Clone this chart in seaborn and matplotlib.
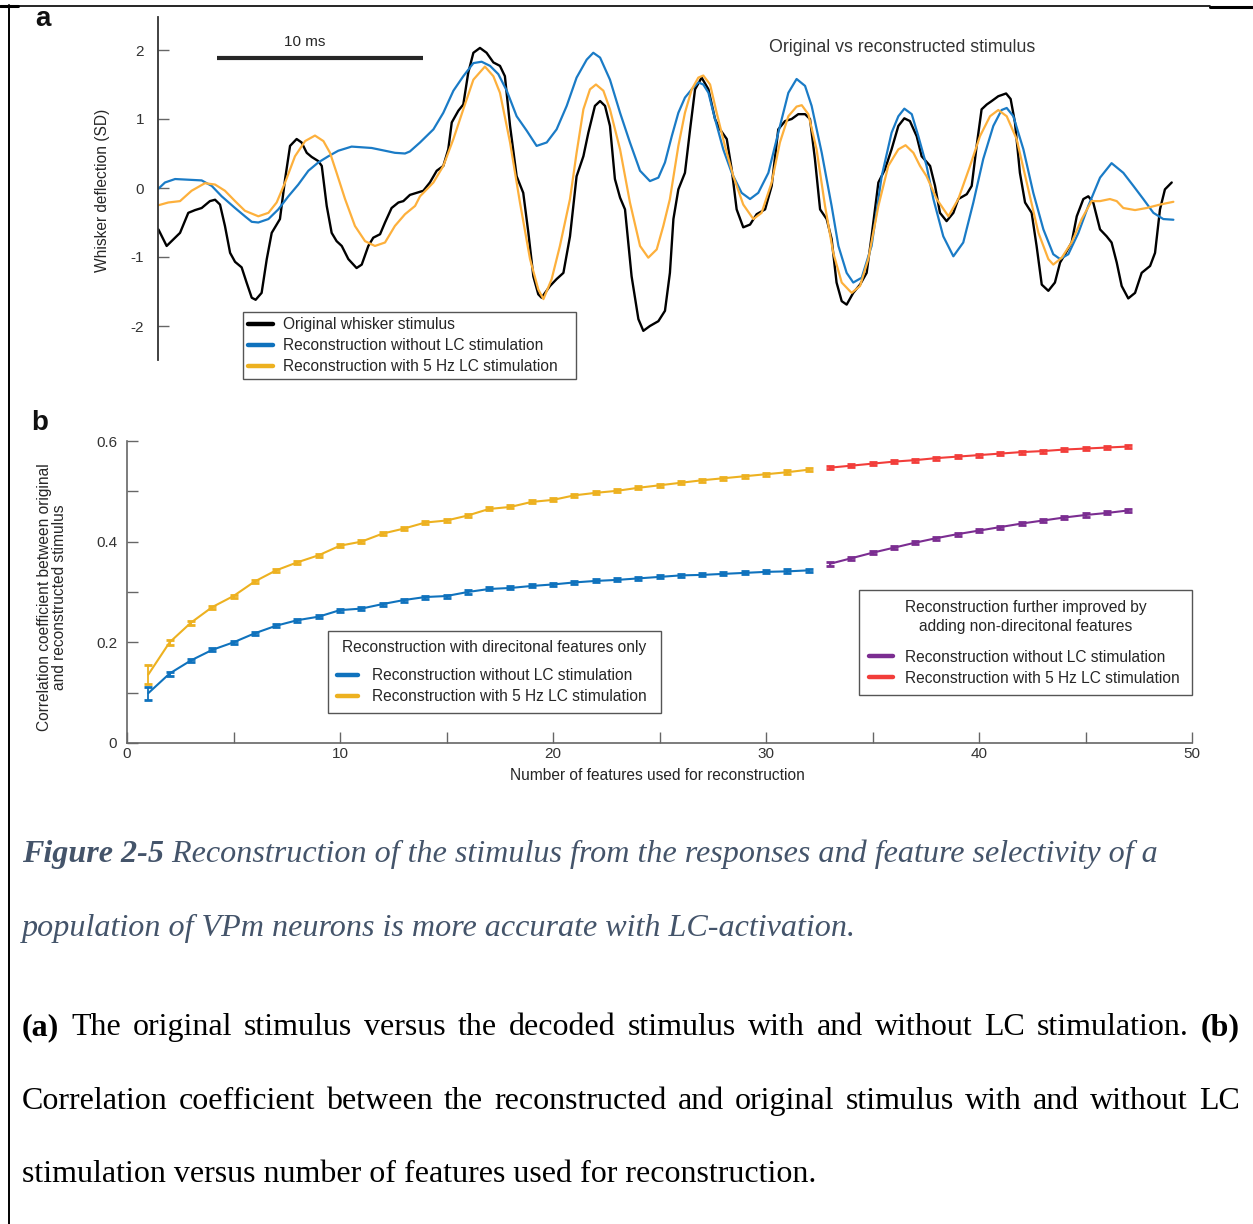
import numpy as np
import pandas as pd
import matplotlib
matplotlib.use("Agg")
import matplotlib.pyplot as plt
import seaborn as sns
from matplotlib.lines import Line2D

# ---------------- data: panel a (time in ms, deflection in SD) ----------------
original_pts = [(0.02,-0.60),(0.42,-0.84),(1.07,-0.65),(1.47,-0.36),(1.80,-0.32),(2.12,-0.29),(2.52,-0.19),(2.77,-0.17),(3.01,-0.24),(3.25,-0.55),(3.50,-0.94),(3.74,-1.07),(4.06,-1.15),(4.30,-1.37),(4.55,-1.59),(4.74,-1.62),(5.03,-1.52),(5.28,-1.03),(5.52,-0.65),(5.92,-0.45),(6.17,0.13),(6.41,0.61),(6.73,0.71),(6.97,0.66),(7.22,0.51),(7.46,0.45),(7.78,0.39),(7.95,0.32),(8.19,-0.26),(8.43,-0.65),(8.67,-0.77),(8.92,-0.84),(9.24,-1.03),(9.64,-1.16),(9.89,-1.11),(10.21,-0.84),(10.45,-0.72),(10.78,-0.67),(11.02,-0.50),(11.34,-0.29),(11.67,-0.21),(11.91,-0.19),(12.23,-0.10),(12.88,-0.04),(13.20,0.08),(13.53,0.25),(13.85,0.32),(14.09,0.56),(14.26,0.95),(14.58,1.12),(14.82,1.21),(15.06,1.67),(15.31,1.96),(15.63,2.03),(15.95,1.96),(16.28,1.82),(16.60,1.77),(16.84,1.62),(17.09,0.90),(17.41,0.17),(17.73,-0.07),(17.98,-0.65),(18.22,-1.28),(18.46,-1.54),(18.62,-1.59),(19.03,-1.42),(19.35,-1.32),(19.68,-1.23),(20.00,-0.70),(20.32,0.17),(20.65,0.46),(20.89,0.80),(21.21,1.19),(21.46,1.26),(21.70,1.19),(21.94,0.90),(22.18,0.13),(22.43,-0.14),(22.67,-0.31),(22.99,-1.28),(23.32,-1.90),(23.56,-2.07),(23.88,-2.00),(24.29,-1.93),(24.61,-1.78),(24.85,-1.23),(25.02,-0.45),(25.26,-0.02),(25.58,0.22),(25.83,0.85),(26.07,1.43),(26.39,1.60),(26.72,1.43),(27.04,1.00),(27.28,0.85),(27.61,0.71),(27.85,0.27),(28.09,-0.31),(28.41,-0.57),(28.74,-0.53),(29.06,-0.38),(29.47,-0.31),(29.79,0.03),(30.11,0.85),(30.44,0.97),(30.76,1.00),(31.08,1.07),(31.41,1.07),(31.65,1.00),(31.89,0.42),(32.14,-0.31),(32.46,-0.45),(32.70,-0.74),(32.94,-1.37),(33.19,-1.64),(33.43,-1.69),(33.75,-1.52),(34.08,-1.40),(34.40,-1.23),(34.64,-0.70),(34.97,0.08),(35.29,0.27),(35.61,0.56),(35.94,0.90),(36.23,1.01),(36.50,0.97),(36.83,0.75),(37.07,0.46),(37.48,0.32),(37.72,0.03),(37.96,-0.36),(38.28,-0.48),(38.61,-0.36),(38.85,-0.16),(39.26,-0.09),(39.50,0.03),(39.74,0.61),(39.98,1.14),(40.23,1.21),(40.47,1.26),(40.79,1.33),(41.17,1.37),(41.39,1.29),(41.60,0.95),(41.84,0.22),(42.09,-0.21),(42.41,-0.36),(42.65,-0.84),(42.90,-1.40),(43.22,-1.49),(43.54,-1.37),(43.79,-1.08),(44.03,-0.96),(44.35,-0.79),(44.60,-0.41),(44.92,-0.16),(45.16,-0.12),(45.40,-0.21),(45.73,-0.60),(46.05,-0.70),(46.29,-0.79),(46.54,-1.08),(46.78,-1.42),(47.10,-1.60),(47.43,-1.52),(47.75,-1.23),(48.16,-1.13),(48.40,-0.94),(48.64,-0.31),(48.88,-0.02),(49.21,0.08)]

recon_noLC_pts = [(0.02,-0.01),(0.34,0.08),(0.83,0.13),(1.47,0.12),(2.12,0.11),(2.61,0.03),(3.09,-0.12),(3.74,-0.29),(4.22,-0.41),(4.55,-0.49),(4.87,-0.50),(5.36,-0.45),(5.84,-0.31),(6.33,-0.12),(6.81,0.05),(7.30,0.25),(7.78,0.37),(8.27,0.46),(8.75,0.54),(9.40,0.60),(9.89,0.59),(10.37,0.58),(11.02,0.54),(11.50,0.51),(11.99,0.50),(12.23,0.53),(12.72,0.66),(13.37,0.85),(13.85,1.09),(14.34,1.41),(14.82,1.62),(15.31,1.81),(15.71,1.83),(16.12,1.77),(16.52,1.65),(16.93,1.41),(17.41,1.04),(17.90,0.83),(18.38,0.61),(18.87,0.66),(19.35,0.85),(19.84,1.19),(20.32,1.60),(20.81,1.86),(21.13,1.96),(21.46,1.89),(21.94,1.57),(22.43,1.09),(22.91,0.66),(23.40,0.25),(23.88,0.10),(24.29,0.15),(24.61,0.37),(24.94,0.75),(25.26,1.09),(25.58,1.31),(25.91,1.43),(26.23,1.53),(26.47,1.50),(26.72,1.38),(27.04,1.00),(27.44,0.56),(27.85,0.22),(28.33,-0.07),(28.74,-0.16),(29.14,-0.07),(29.63,0.22),(30.11,0.80),(30.60,1.38),(31.00,1.58),(31.41,1.48),(31.73,1.19),(32.22,0.51),(32.70,-0.26),(33.03,-0.84),(33.43,-1.23),(33.75,-1.37),(34.16,-1.30),(34.64,-0.84),(35.13,0.17),(35.61,0.80),(35.94,1.04),(36.23,1.15),(36.59,1.07),(36.91,0.75),(37.31,0.32),(37.64,-0.16),(38.12,-0.70),(38.61,-0.99),(39.09,-0.79),(39.58,-0.21),(40.06,0.42),(40.55,0.90),(40.95,1.13),(41.20,1.16),(41.52,1.04),(42.01,0.56),(42.49,-0.07),(42.98,-0.60),(43.46,-0.96),(43.79,-1.03),(44.19,-0.96),(44.68,-0.65),(45.16,-0.26),(45.73,0.15),(46.29,0.36),(46.86,0.22),(47.35,0.03),(47.83,-0.16),(48.32,-0.36),(48.80,-0.45),(49.29,-0.46)]

recon_LC_pts = [(0.02,-0.25),(0.50,-0.21),(1.07,-0.19),(1.63,-0.04),(2.28,0.07),(2.77,0.05),(3.25,-0.04),(3.74,-0.19),(4.22,-0.33),(4.87,-0.41),(5.36,-0.36),(5.76,-0.21),(6.17,0.08),(6.65,0.46),(7.14,0.68),(7.62,0.76),(8.03,0.68),(8.35,0.51),(8.67,0.22),(9.08,-0.16),(9.56,-0.55),(10.05,-0.77),(10.53,-0.84),(11.02,-0.79),(11.50,-0.55),(11.99,-0.38),(12.48,-0.26),(12.72,-0.12),(13.37,0.08),(13.85,0.32),(14.34,0.71),(14.82,1.14),(15.31,1.57),(15.87,1.76),(16.28,1.62),(16.60,1.38),(17.09,0.66),(17.57,-0.21),(18.06,-1.03),(18.46,-1.47),(18.71,-1.61),(19.11,-1.32),(19.51,-0.84),(20.00,-0.16),(20.32,0.51),(20.65,1.14),(20.97,1.43),(21.26,1.50),(21.62,1.41),(21.94,1.14),(22.43,0.56),(22.91,-0.21),(23.40,-0.84),(23.80,-1.01),(24.21,-0.89),(24.53,-0.55),(24.85,-0.16),(25.26,0.61),(25.58,1.09),(25.91,1.43),(26.23,1.60),(26.47,1.63),(26.80,1.50),(27.12,1.09),(27.52,0.61),(27.93,0.17),(28.41,-0.24),(28.90,-0.45),(29.30,-0.36),(29.79,0.08),(30.19,0.66),(30.60,1.04),(31.00,1.18),(31.25,1.20),(31.57,1.07),(31.97,0.56),(32.38,-0.26),(32.78,-0.94),(33.19,-1.37),(33.67,-1.52),(34.08,-1.42),(34.48,-1.03),(34.97,-0.26),(35.45,0.32),(35.94,0.56),(36.29,0.62),(36.67,0.51),(36.99,0.32),(37.31,0.17),(37.80,-0.16),(38.37,-0.41),(38.85,-0.16),(39.42,0.32),(39.90,0.75),(40.39,1.04),(40.79,1.13),(41.20,1.04),(41.68,0.71),(42.17,0.08),(42.74,-0.65),(43.22,-1.03),(43.46,-1.11),(43.87,-1.01),(44.35,-0.79),(44.84,-0.45),(45.32,-0.19),(45.73,-0.19),(46.21,-0.16),(46.54,-0.19),(46.86,-0.29),(47.43,-0.32),(47.99,-0.29),(48.64,-0.24),(49.29,-0.20)]

a_labels = ["Original whisker stimulus", "Reconstruction without LC stimulation",
            "Reconstruction with 5 Hz LC stimulation"]
a_yticks = [-2, -1, 0, 1, 2]
a_yticklabels = ["-2", "-1", "0", "1", "2"]

# ---------------- data: panel b ----------------
feat_dir = list(range(1, 33))
corr_dir_noLC = [0.099,0.138,0.164,0.185,0.200,0.218,0.233,0.244,0.251,0.264,0.267,0.276,0.284,0.290,0.292,0.300,
                 0.306,0.308,0.312,0.315,0.319,0.322,0.324,0.327,0.330,0.333,0.334,0.336,0.338,0.340,0.341,0.343]
err_dir_noLC = [0.013,0.004,0.003,0.003,0.003,0.003,0.003,0.003,0.003,0.003,0.003,0.003,0.003,0.003,0.003,0.003,
                0.003,0.003,0.003,0.003,0.003,0.003,0.003,0.003,0.003,0.003,0.003,0.003,0.003,0.003,0.004,0.003]
corr_dir_LC = [0.136,0.200,0.239,0.270,0.292,0.321,0.343,0.359,0.373,0.392,0.400,0.416,0.426,0.438,0.442,0.452,
               0.465,0.469,0.479,0.483,0.492,0.497,0.501,0.507,0.512,0.517,0.522,0.526,0.530,0.534,0.538,0.543]
err_dir_LC = [0.018,0.005,0.004,0.003,0.003,0.003,0.003,0.003,0.003,0.003,0.003,0.003,0.003,0.003,0.003,0.003,
              0.003,0.003,0.003,0.003,0.003,0.003,0.003,0.003,0.003,0.003,0.003,0.003,0.003,0.003,0.004,0.003]
feat_all = list(range(33, 48))
corr_all_noLC = [0.356,0.367,0.378,0.388,0.398,0.407,0.415,0.422,0.429,0.436,0.442,0.448,0.453,0.457,0.462]
err_all_noLC = [0.004,0.003,0.003,0.003,0.003,0.003,0.003,0.003,0.003,0.003,0.003,0.003,0.003,0.003,0.003]
corr_all_LC = [0.547,0.551,0.555,0.559,0.562,0.566,0.569,0.572,0.575,0.578,0.580,0.583,0.585,0.587,0.589]
err_all_LC = [0.003,0.003,0.003,0.003,0.003,0.003,0.003,0.003,0.003,0.003,0.003,0.003,0.003,0.003,0.003]

b_xticks = [0, 5, 10, 15, 20, 25, 30, 35, 40, 45, 50]
b_xticklabels = ["0", "", "10", "", "20", "", "30", "", "40", "", "50"]
b_yticks = [0, 0.1, 0.2, 0.3, 0.4, 0.5, 0.6]
b_yticklabels = ["0", "", "0.2", "", "0.4", "", "0.6"]
b_labels = ["Reconstruction without LC stimulation", "Reconstruction with 5 Hz LC stimulation"]

caption_head = "Figure 2-5"
caption_l1 = " Reconstruction of the stimulus from the responses and feature selectivity of a"
caption_l2 = "population of VPm neurons is more accurate with LC-activation."
body_l1 = [("(a)", "bold"), ("The", "normal"), ("original", "normal"), ("stimulus", "normal"), ("versus", "normal"),
           ("the", "normal"), ("decoded", "normal"), ("stimulus", "normal"), ("with", "normal"), ("and", "normal"),
           ("without", "normal"), ("LC", "normal"), ("stimulation.", "normal"), ("(b)", "bold")]
body_l2 = "Correlation coefficient between the reconstructed and original stimulus with and without LC"
body_l3 = "stimulation versus number of features used for reconstruction."

# ---------------- style ----------------
sns.set_theme(style="white")
plt.rcParams['font.family'] = ['Liberation Sans', 'DejaVu Sans']
plt.rcParams['axes.linewidth'] = 1.0

BLACK = "#000000"
BLUE_A = "#1a7bc6"
YELLOW_A = "#fdb03c"
BLUE = "#0f72bd"
YELLOW = "#edb120"
PURPLE = "#7b2d91"
RED = "#f23d3a"
TXT = "#262626"
LFS = 11.2

W, H = 1253, 1224
fig = plt.figure(figsize=(W / 100, H / 100), dpi=100)


def fx(x):
    return x / W


def fy(y):
    return 1 - y / H


def place_legend(ax, handles, labels, x0, x1, ytop, title=None, hlen=1.5, hpad=0.7, bpad=0.5, sep=11.5):
    lg = ax.legend(handles, labels, title=title, loc="upper left",
                   bbox_to_anchor=(fx(x0), fy(ytop) - 0.05, fx(x1) - fx(x0), 0.05),
                   bbox_transform=fig.transFigure, mode="expand", frameon=True, fancybox=False,
                   edgecolor="#555555", framealpha=1, fontsize=LFS, title_fontsize=LFS,
                   handlelength=hlen, handletextpad=hpad, borderpad=bpad,
                   labelspacing=0.37, borderaxespad=0)
    lg.get_frame().set_linewidth(1.0)
    for t in lg.get_texts():
        t.set_color(TXT)
    if title is not None:
        lg.get_title().set_color(TXT)
        lg.get_title().set_multialignment("center")
        lg.get_title().set_linespacing(1.35)
        lg._legend_box.sep = sep
    return lg


# ---------------- panel a ----------------
axa = fig.add_axes([fx(158), fy(360), fx(1180) - fx(158), fy(17) - fy(360)])
for pts, col, lw in [(original_pts, BLACK, 1.7), (recon_noLC_pts, BLUE_A, 1.6), (recon_LC_pts, YELLOW_A, 1.6)]:
    df = pd.DataFrame(pts, columns=["t", "v"])
    sns.lineplot(data=df, x="t", y="v", color=col, lw=lw, ax=axa, sort=False, estimator=None,
                 solid_joinstyle="round")
axa.set_xlim(0, 1022 / 20.6)
axa.set_ylim(-172 / 69, 171 / 69)
axa.set_xlabel("")
axa.set_ylabel("")
axa.set_xticks([])
axa.set_yticks(a_yticks)
axa.set_yticklabels(a_yticklabels)
for s in ["top", "right", "bottom"]:
    axa.spines[s].set_visible(False)
axa.spines["left"].set_color("#333333")
axa.spines["left"].set_linewidth(1.3)
axa.tick_params(axis="y", direction="in", length=8, width=1, color="#666666",
                labelsize=11, labelcolor="#333333", pad=10, left=True)
# 10 ms scale bar
axa.plot([2.86, 12.86], [1.884, 1.884], color="#262626", lw=3.0, solid_capstyle="butt")
axa.text(7.1, 2.12, "10 ms", ha="center", va="center", fontsize=11, color=TXT)
axa.text(36.1, 2.04, "Original vs reconstructed stimulus", ha="center", va="center",
         fontsize=12.8, color="#333333")

handles_a = [Line2D([], [], color=c, lw=3.2) for c in (BLACK, BLUE, YELLOW)]
leg_a = place_legend(axa, handles_a, a_labels, 243, 576, 312, hlen=1.6, hpad=0.65, bpad=0.35)

fig.text(fx(103), fy(190), "Whisker deflection (SD)", rotation=90, ha="center", va="center",
         fontsize=LFS, color=TXT)

# ---------------- panel b ----------------
axb = fig.add_axes([fx(127), fy(743), fx(1192) - fx(127), fy(441) - fy(743)])
series_b = [(feat_dir, corr_dir_noLC, err_dir_noLC, BLUE), (feat_dir, corr_dir_LC, err_dir_LC, YELLOW),
            (feat_all, corr_all_noLC, err_all_noLC, PURPLE), (feat_all, corr_all_LC, err_all_LC, RED)]
for xs, ys, es, col in series_b:
    sns.lineplot(x=xs, y=ys, color=col, lw=1.5, ax=axb, estimator=None)
    axb.errorbar(xs, ys, yerr=es, fmt="none", ecolor=col, elinewidth=1.3, capsize=3.2, capthick=2.0)
axb.set_xlim(0, 50)
axb.set_ylim(0, 0.6)
axb.set_xticks(b_xticks)
axb.set_xticklabels(b_xticklabels)
axb.set_yticks(b_yticks)
axb.set_yticklabels(b_yticklabels)
axb.set_xlabel("")
axb.set_ylabel("")
for s in ["top", "right"]:
    axb.spines[s].set_visible(False)
for s in ["left", "bottom"]:
    axb.spines[s].set_color("#666666")
    axb.spines[s].set_linewidth(1.2)
axb.tick_params(axis="both", direction="in", length=8, width=1, color="#666666",
                labelsize=11, labelcolor="#333333", left=True, bottom=True)
axb.tick_params(axis="y", pad=7)
axb.tick_params(axis="x", pad=3)

h1 = [Line2D([], [], color=c, lw=3.2) for c in (BLUE, YELLOW)]
leg1 = place_legend(axb, h1, b_labels, 328, 661, 631,
                    title="Reconstruction with direcitonal features only", hlen=1.35, hpad=0.9,
                    bpad=0.55, sep=10)
axb.add_artist(leg1)
h2 = [Line2D([], [], color=c, lw=3.2) for c in (PURPLE, RED)]
leg2 = place_legend(axb, h2, b_labels, 859, 1192, 590,
                    title="Reconstruction further improved by\nadding non-direcitonal features",
                    hlen=1.55, hpad=0.8, bpad=0.62, sep=11.5)

fig.text(fx(52), fy(597), "Correlation coefficient between original\nand reconstructed stimulus",
         rotation=90, ha="center", va="center", multialignment="center", fontsize=LFS,
         color=TXT, linespacing=1.05)
fig.text(fx(657), fy(776), "Number of features used for reconstruction", ha="center", va="center",
         fontsize=LFS, color=TXT)

# panel letters
fig.text(fx(43), fy(19), "a", ha="center", va="center", fontsize=20, weight="bold", color="#111111")
fig.text(fx(40), fy(423), "b", ha="center", va="center", fontsize=20, weight="bold", color="#111111")

# ---------------- caption ----------------
SERIF = ["Liberation Serif", "DejaVu Serif"]
CAP = "#44546a"
FS_CAP = 23.1
FS = 23.0
renderer = fig.canvas.get_renderer()
th = fig.text(fx(22), fy(862), caption_head, fontsize=FS_CAP, family=SERIF, style="italic",
              weight="bold", color=CAP, va="baseline", ha="left")
wh = th.get_window_extent(renderer).width
fig.text(fx(22 + wh), fy(862), caption_l1, fontsize=FS_CAP, family=SERIF, style="italic",
         color=CAP, va="baseline", ha="left")
fig.text(fx(22), fy(936), caption_l2, fontsize=FS_CAP, family=SERIF, style="italic",
         color=CAP, va="baseline", ha="left")


def justify(words, ybase, x0, x1):
    texts = [fig.text(0, fy(ybase), w, fontsize=FS, family=SERIF, weight=wt, color="black",
                      va="baseline", ha="left") for w, wt in words]
    widths = [t.get_window_extent(renderer).width for t in texts]
    gap = (x1 - x0 - sum(widths)) / (len(texts) - 1)
    x = x0
    for t, wd in zip(texts, widths):
        t.set_x(fx(x))
        x += wd + gap


justify(body_l1, 1035, 22, 1240)
justify([(w, "normal") for w in body_l2.split(" ")], 1109, 22, 1240)
fig.text(fx(22), fy(1182), body_l3, fontsize=FS, family=SERIF, color="black", va="baseline", ha="left")

# ---------------- page borders ----------------
fig.add_artist(Line2D([fx(8), fx(1210)], [fy(5.5), fy(5.5)], color="black", lw=1.2))
fig.add_artist(Line2D([fx(0), fx(18)], [fy(6), fy(6)], color="black", lw=2.2))
fig.add_artist(Line2D([fx(1210), fx(1253)], [fy(6.5), fy(6.5)], color="black", lw=2.2))
fig.add_artist(Line2D([fx(8.5), fx(8.5)], [fy(5), fy(1224)], color="black", lw=1.4))

fig.savefig("out.png", dpi=100)
